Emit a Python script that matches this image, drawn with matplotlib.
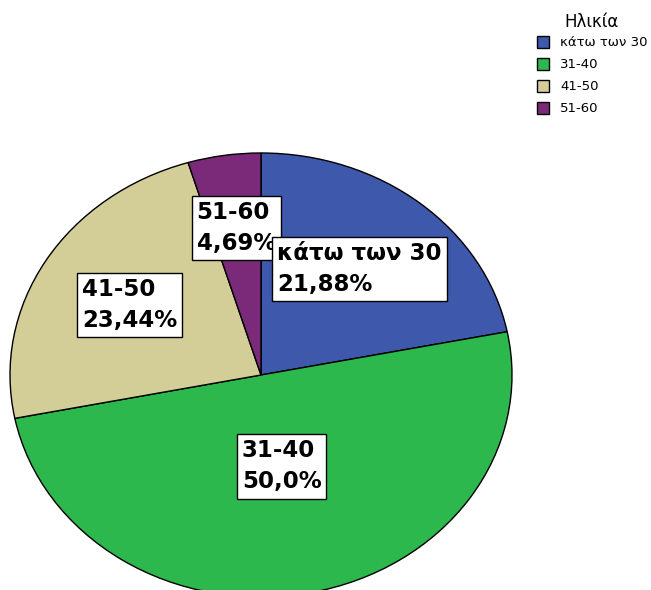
import numpy as np
import matplotlib
matplotlib.use("Agg")
import matplotlib.pyplot as plt
from matplotlib.patches import Rectangle

categories = ["κάτω των 30", "31-40", "41-50", "51-60"]
values = [21.88, 50.0, 23.44, 4.69]
pct_labels = ["21,88%", "50,0%", "23,44%", "4,69%"]
colors = ["#3E58AC", "#2DB84D", "#D3CE97", "#7B2A7A"]
label_radius = [0.62, 0.42, 0.61, 0.67]
legend_title = "Ηλικία"

plt.rcParams['font.family'] = ['DejaVu Sans']

W, H = 651, 590
fig = plt.figure(figsize=(W / 100, H / 100), dpi=100)
# elliptical pie: x from 10 to 512 px, y top 153 px, bottom 597 px
ax = fig.add_axes([10 / W, (H - 597) / H, 502 / W, 444 / H])

wedges, _ = ax.pie(values, colors=colors, startangle=90, counterclock=False,
                   radius=1.0, center=(0, 0), frame=False,
                   wedgeprops=dict(edgecolor='black', linewidth=1.0, clip_on=False))
ax.set_xlim(-1, 1)
ax.set_ylim(-1, 1)
ax.set_aspect('auto')
ax.axis('off')

total = sum(values)
start = 90.0
for i, v in enumerate(values):
    span = 360.0 * v / total
    mid = np.deg2rad(start - span / 2)
    start -= span
    r = label_radius[i]
    ax.text(r * np.cos(mid), r * np.sin(mid), f"{categories[i]}\n{pct_labels[i]}",
            ha='center', va='center', multialignment='left',
            fontsize=16.5, fontweight='bold', linespacing=1.45,
            zorder=10 - i,
            bbox=dict(boxstyle='square,pad=0.22', facecolor='white',
                      edgecolor='black', linewidth=1.0))

# legend (drawn manually in figure pixel coordinates)
def fx(px):
    return px / W

def fy(py):
    return 1 - py / H

fig.text(fx(591), fy(22), legend_title, ha='center', va='center', fontsize=12)
for i, (c, lab) in enumerate(zip(colors, categories)):
    yc = 42 + i * 22
    fig.patches.append(Rectangle((fx(537), fy(yc + 6)), 12 / W, 12 / H,
                                 transform=fig.transFigure, facecolor=c,
                                 edgecolor='black', linewidth=1.0))
    fig.text(fx(560), fy(yc), lab, ha='left', va='center', fontsize=9.5)

fig.savefig("out.png", dpi=100)
